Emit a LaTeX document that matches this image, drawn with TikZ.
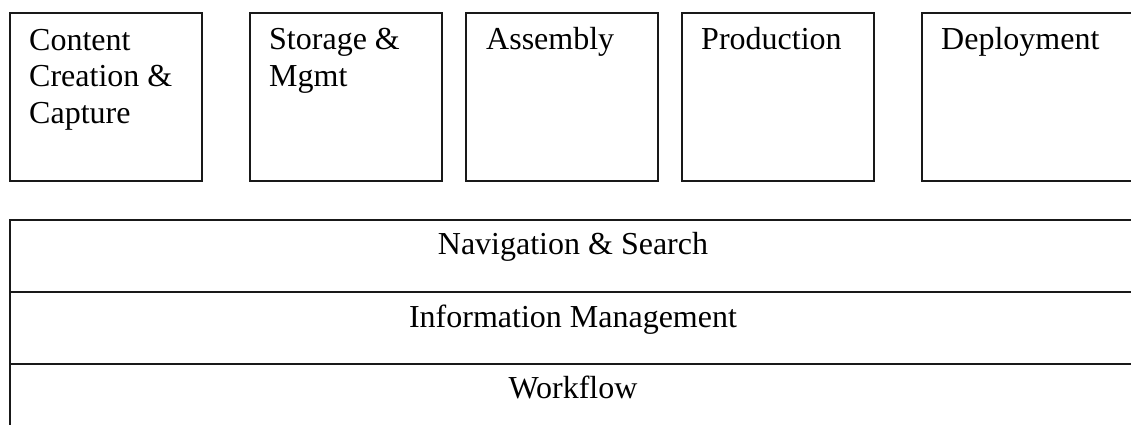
\documentclass[tikz,border=0pt]{standalone}
\usepackage{fontspec}
\setmainfont{Liberation Serif}
\begin{document}
\begin{tikzpicture}[x=1pt,y=-1pt,
  stage/.style={draw=black!90, line width=1.6pt, minimum width=192pt, minimum height=168pt, anchor=north west, inner sep=0pt},
  stagetext/.style={anchor=base west, inner sep=0pt, align=left, font=\fontsize{32}{36.5}\selectfont},
  band/.style={draw=black!90, line width=2pt, minimum width=1131pt, minimum height=72pt, anchor=north west, inner sep=0pt},
  bandtext/.style={anchor=base, inner sep=0pt, font=\fontsize{32}{36.5}\selectfont}]
\useasboundingbox (0,0) rectangle (1131,425);
\clip (0,0) rectangle (1131,425);
\fill[white] (0,0) rectangle (1131,425);
% top boxes
\node[stage] (b1) at (9,12) {};
\node[stage] (b2) at (249,12) {};
\node[stage] (b3) at (465,12) {};
\node[stage] (b4) at (681,12) {};
\node[stage, minimum width=240pt] (b5) at (921,12) {};
% texts (base anchor = baseline of the last line)
\node[stagetext] (t1) at (29,123) {Content\\Creation \&\\Capture};
\node[stagetext] (t2) at (269,86.5) {Storage \&\\Mgmt};
\node[stagetext] (t3) at (486,50) {Assembly};
\node[stagetext] (t4) at (701,50) {Production};
\node[stagetext] (t5) at (941,50) {Deployment};
% bands
\node[band] (nav) at (9,219) {};
\node[band] (info) at (9,291) {};
\node[band] (wf) at (9,363) {};
\node[bandtext] (navt) at (573,254) {Navigation \& Search};
\node[bandtext] (infot) at (573,327) {Information Management};
\node[bandtext] (wft) at (573,398) {Workflow};
\end{tikzpicture}
\end{document}
